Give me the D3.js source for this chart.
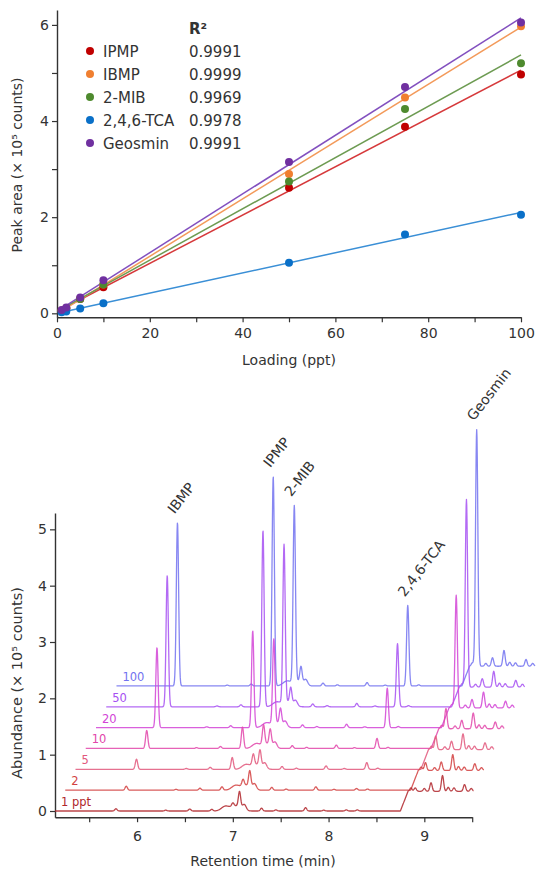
<!DOCTYPE html>
<meta charset="utf-8">
<script src="https://d3js.org/d3.v7.min.js"></script>
<style>
  body { margin: 0; background: #fff; }
  text { font-family: "DejaVu Sans", sans-serif; fill: #333; }
</style>
<svg id="chart" width="537" height="872"></svg>
<script>

  // ---- calibration data (top panel), peak area in 10^5 counts
  var loadings = [1, 2, 5, 10, 50, 75, 100];
  var compounds = ["IPMP", "IBMP", "2-MIB", "2,4,6-TCA", "Geosmin"];
  var rSquared = ["0.9991", "0.9999", "0.9969", "0.9978", "0.9991"];
  var ipmpArea = [0.05, 0.10, 0.30, 0.54, 2.61, 3.88, 4.97];
  var ibmpArea = [0.06, 0.11, 0.31, 0.60, 2.90, 4.49, 5.97];
  var mibArea = [0.05, 0.10, 0.30, 0.60, 2.74, 4.25, 5.20];
  var tcaArea = [0.02, 0.04, 0.10, 0.21, 1.05, 1.64, 2.05];
  var geosminArea = [0.07, 0.12, 0.33, 0.69, 3.15, 4.71, 6.05];

  // ---- chromatograms (bottom panel)
  var traceLabels = ["1 ppt", "2", "5", "10", "20", "50", "100"];
  var peakNames = ["IBMP", "IPMP", "2-MIB", "2,4,6-TCA", "Geosmin"];
  var peakTimes = [5.78, 6.78, 7.00, 8.185, 8.905];
  // height of each compound peak above the trace baseline, one value per trace
  var ibmpHeight = [0.04, 0.07, 0.18, 0.32, 1.42, 2.33, 2.90];
  var ipmpHeight = [0.03, 0.06, 0.21, 0.38, 1.72, 3.13, 3.72];
  var mibHeight = [0.06, 0.11, 0.19, 0.34, 1.49, 2.80, 3.12];
  var tcaHeight = [0.02, 0.03, 0.12, 0.18, 0.70, 1.12, 1.43];
  var geosminHeight = [0.06, 0.14, 0.24, 0.36, 2.00, 3.33, 4.20];
  // background / matrix peaks seen in every trace
  var matrixTimes = [6.30, 6.55, 6.92, 7.03, 7.07, 7.12, 7.30, 7.45, 7.76, 7.95, 8.30, 8.86, 9.00, 9.07, 9.19, 9.25, 9.31, 9.42, 9.49];
  var matrixHeights = [0.015, 0.035, 0.08, 0.09, 0.28, 0.10, 0.05, 0.02, 0.06, 0.015, 0.02, 0.06, 0.05, 0.15, 0.28, 0.07, 0.06, 0.12, 0.05];
  var matrixWidths = [0.012, 0.012, 0.04, 0.05, 0.012, 0.02, 0.012, 0.012, 0.012, 0.012, 0.012, 0.012, 0.012, 0.012, 0.012, 0.012, 0.012, 0.012, 0.012];
  // baseline jump near the end of each run
  var stepTime = 8.79, stepHeight = 0.35;

  var svg = d3.select("#chart");

  var axisColor = "#333";
  function styleAxis(g, size) {
    g.select(".domain").attr("stroke", axisColor).attr("stroke-width", 1.4);
    g.selectAll(".tick line").attr("stroke", axisColor).attr("stroke-width", 1.2);
    g.selectAll(".tick text").attr("font-family", "DejaVu Sans").attr("font-size", size).attr("fill", "#333");
    g.attr("font-family", null);
  }

  // ================= top panel =================
  var xTop = d3.scaleLinear().domain([0, 100]).range([57, 521]);
  var yTop = d3.scaleLinear().domain([-0.083, 6.31]).range([317.3, 10]);

  var gx = svg.append("g").attr("transform", "translate(0,317.3)")
          .call(d3.axisBottom(xTop).tickValues(d3.range(0, 101, 10)).tickSize(5).tickSizeOuter(0)
                  .tickFormat(function(d) { return d % 20 === 0 ? d : ""; }));
  styleAxis(gx, 14);
  gx.selectAll(".tick text").attr("dy", "0.9em");

  var gy = svg.append("g").attr("transform", "translate(57,0)")
          .call(d3.axisLeft(yTop).tickValues(d3.range(0, 7, 1)).tickSize(5).tickSizeOuter(0)
                  .tickFormat(function(d) { return d % 2 === 0 ? d : ""; }));
  styleAxis(gy, 14);

  svg.append("text").attr("x", 289).attr("y", 365).attr("text-anchor", "middle")
          .attr("font-size", 14).text("Loading (ppt)");

  svg.append("text").attr("transform", "translate(22,165) rotate(-90)")
          .attr("text-anchor", "middle").attr("font-size", 14)
          .text("Peak area (× 10⁵ counts)");

  var seriesAreas = [ipmpArea, ibmpArea, mibArea, tcaArea, geosminArea];
  var dotColors = ["#c00000", "#f07f30", "#4e8a2e", "#0a70c8", "#7030a0"];
  var lineColors = ["#d6393b", "#f39a5a", "#6d9b52", "#3a8fd6", "#8250bf"];

  function fit(ys) {
    var mx = d3.mean(loadings), my = d3.mean(ys);
    var sxy = d3.sum(loadings, function(x, i) { return (x - mx) * (ys[i] - my); });
    var sxx = d3.sum(loadings, function(x) { return (x - mx) * (x - mx); });
    var b = sxy / sxx;
    return { slope: b, intercept: my - b * mx };
  }

  seriesAreas.forEach(function(ys, k) {
    var f = fit(ys);
    svg.append("path")
            .datum([1, 100])
            .attr("fill", "none")
            .attr("stroke", lineColors[k])
            .attr("stroke-width", 1.5)
            .attr("d", d3.line()
                    .x(function(x) { return xTop(x); })
                    .y(function(x) { return yTop(f.intercept + f.slope * x); }));
  });

  seriesAreas.forEach(function(ys, k) {
    svg.append("g").selectAll("circle")
            .data(ys)
            .enter()
            .append("circle")
            .attr("cx", function(d, i) { return xTop(loadings[i]); })
            .attr("cy", function(d) { return yTop(d); })
            .attr("r", 4)
            .attr("fill", dotColors[k]);
  });

  // legend
  var leg = svg.append("g");
  leg.append("text").attr("x", 189).attr("y", 34).attr("font-size", 15)
          .attr("font-weight", "bold").text("R²");
  compounds.forEach(function(name, k) {
    var cy = 51 + k * 23;
    leg.append("circle").attr("cx", 90).attr("cy", cy).attr("r", 4).attr("fill", dotColors[k]);
    leg.append("text").attr("x", 103).attr("y", cy + 5.5).attr("font-size", 15).text(name);
    leg.append("text").attr("x", 189).attr("y", cy + 5.5).attr("font-size", 15).text(rSquared[k]);
  });

  // ================= bottom panel =================
  var xB = d3.scaleLinear().domain([5.143, 9.5]).range([55, 472.2]);
  var yB = d3.scaleLinear().domain([-0.11, 5.29]).range([817.2, 513]);

  var gbx = svg.append("g").attr("transform", "translate(0,817.2)")
          .call(d3.axisBottom(xB).tickValues([5.5, 6, 6.5, 7, 7.5, 8, 8.5, 9, 9.5]).tickSize(5).tickSizeOuter(0)
                  .tickFormat(function(d) { return d % 1 === 0 ? d : ""; }));
  styleAxis(gbx, 14);
  gbx.selectAll(".tick text").attr("dy", "1.1em");

  var gby = svg.append("g").attr("transform", "translate(55,0)")
          .call(d3.axisLeft(yB).tickValues([0, 1, 2, 3, 4, 5]).tickSize(5).tickSizeOuter(0)
                  .tickFormat(d3.format("d")));
  styleAxis(gby, 14);

  svg.append("text").attr("x", 263).attr("y", 866).attr("text-anchor", "middle")
          .attr("font-size", 14).text("Retention time (min)");

  svg.append("text").attr("transform", "translate(22,683) rotate(-90)")
          .attr("text-anchor", "middle").attr("font-size", 14.5)
          .text("Abundance (× 10⁵ counts)");

  var compoundHeights = [ibmpHeight, ipmpHeight, mibHeight, tcaHeight, geosminHeight];
  var traceColors = ["#b0262b", "#d23f3f", "#e2587c", "#e246aa", "#d244d6", "#a650f2", "#7272f0"];
  var shiftX = 0.107, shiftY = 0.37;   // waterfall offset between traces
  var peakWidth = 0.012, stepRamp = 0.08;

  function gauss(t, c, s) {
    var z = (t - c) / s;
    return Math.exp(-0.5 * z * z);
  }

  function traceValue(i, t) {
    var v = 0;
    compoundHeights.forEach(function(hs, k) { v += hs[i] * gauss(t, peakTimes[k], peakWidth); });
    matrixTimes.forEach(function(c, k) { v += matrixHeights[k] * gauss(t, c, matrixWidths[k]); });
    v += stepHeight * Math.max(0, Math.min(1, (t - stepTime) / stepRamp + 0.5));
    return v;
  }

  var times = d3.range(5.143, 9.515, 0.003);

  // back traces first so the low concentrations sit in front
  d3.range(traceLabels.length - 1, -1, -1).forEach(function(i) {
    var pts = times.map(function(t) { return { t: t, v: traceValue(i, t) }; });
    svg.append("path")
            .datum(pts)
            .attr("fill", "none")
            .attr("stroke", traceColors[i])
            .attr("stroke-opacity", 0.85)
            .attr("stroke-width", 1.3)
            .attr("stroke-linejoin", "round")
            .attr("d", d3.line()
                    .x(function(d) { return xB(d.t + i * shiftX); })
                    .y(function(d) { return yB(d.v + i * shiftY); }));

    svg.append("text")
            .attr("x", xB(5.143 + i * shiftX) + 6)
            .attr("y", yB(i * shiftY) - 5)
            .attr("font-size", 11.5)
            .style("fill", traceColors[i])
            .text(traceLabels[i]);
  });

  // compound names above the 100 ppt peaks
  var topTrace = traceLabels.length - 1;
  peakNames.forEach(function(name, k) {
    var px = xB(peakTimes[k] + topTrace * shiftX) - 3;
    var py = yB(traceValue(topTrace, peakTimes[k]) + topTrace * shiftY) - 8;
    svg.append("text")
            .attr("transform", "translate(" + px + "," + py + ") rotate(-52)")
            .attr("font-size", 14)
            .text(name);
  });

</script>
